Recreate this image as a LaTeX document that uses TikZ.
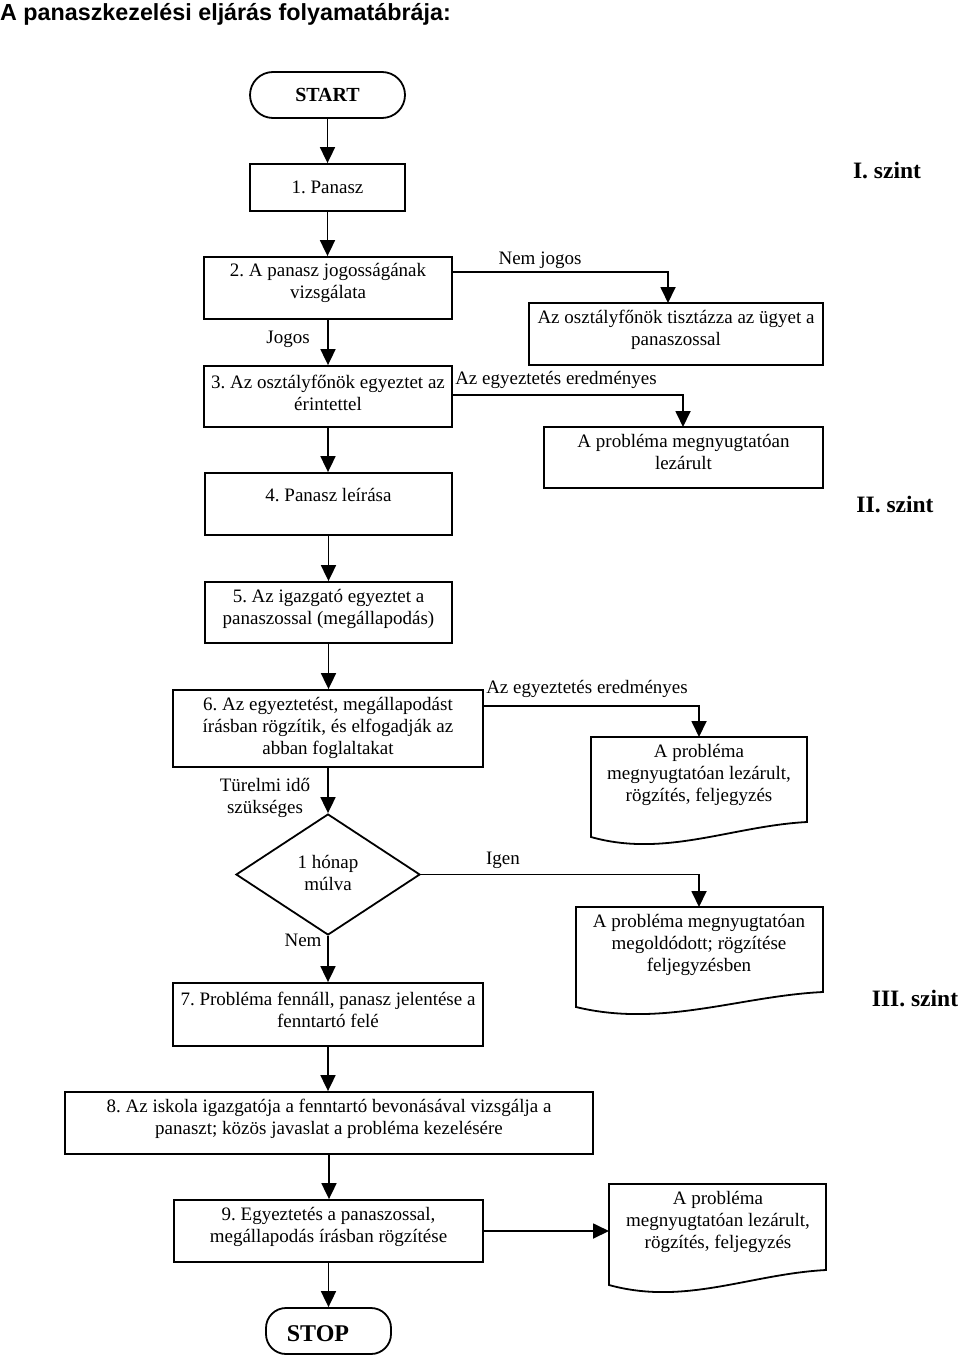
\documentclass[tikz,border=0pt]{standalone}
\usepackage{fontspec}
\setmainfont{Liberation Serif}
\newfontfamily\titlefont{Liberation Sans}
\usetikzlibrary{arrows.meta,calc,shapes.geometric}
\frenchspacing
\begin{document}
\begin{tikzpicture}[x=1pt,y=-1pt,
  box/.style={draw, line width=1.8pt, inner sep=0pt},
  txt/.style={font=\fontsize{19}{22}\selectfont, align=center, inner sep=0pt},
  arr/.style={line width=1.8pt, -{Triangle[length=16pt,width=15pt]}},
  lvl/.style={font=\fontsize{23.5}{26}\selectfont\bfseries, inner sep=0pt},
  docshape/.style={draw, line width=1.8pt}]
\useasboundingbox (0,0) rectangle (960,1356);
\clip (0,0) rectangle (960,1356);

% title
\node[font=\titlefont\fontsize{23.3}{26}\selectfont\bfseries, anchor=west, inner sep=0pt] (title) at (0,14) {A panaszkezelési eljárás folyamatábrája:};

% level labels
\node[lvl] (lv1) at (887,171) {I. szint};
\node[lvl] (lv2) at (895,505) {II. szint};
\node[lvl] (lv3) at (915,999) {III. szint};

% main column
\node[box, rounded corners=23pt, minimum width=155pt, minimum height=46pt, font=\fontsize{20}{22}\selectfont\bfseries] (start) at (327.5,95) {START};
\node[box, minimum width=155pt, minimum height=47pt, txt] (p1) at (327.5,187.5) {1. Panasz};

\node[box, minimum width=248pt, minimum height=62pt] (b2) at (328,288) {};
\node[txt] (b2t) at (328,282.5) {2. A panasz jogosságának\\vizsgálata};

\node[box, minimum width=294pt, minimum height=62pt] (t) at (676,334) {};
\node[txt] (tt) at (676,330) {Az osztályfőnök tisztázza az ügyet a\\panaszossal};

\node[box, minimum width=248pt, minimum height=61pt] (b3) at (328,396.5) {};
\node[txt] (b3t) at (328,392.5) {3. Az osztályfőnök egyeztet az\\érintettel};

\node[box, minimum width=279pt, minimum height=61pt] (l) at (683.5,457.5) {};
\node[txt] (lt) at (683.5,451.5) {A probléma megnyugtatóan\\lezárult};

\node[box, minimum width=247pt, minimum height=62pt] (b4) at (328.5,504) {};
\node[txt] (b4t) at (328.5,495) {4. Panasz leírása};

\node[box, minimum width=247pt, minimum height=61pt] (b5) at (328.5,612.5) {};
\node[txt] (b5t) at (328.5,608.5) {5. Az igazgató egyeztet a\\panaszossal (megállapodás)};

\node[box, minimum width=310pt, minimum height=77pt] (b6) at (328,728.5) {};
\node[txt] (b6t) at (328,727.5) {6. Az egyeztetést, megállapodást\\írásban rögzítik, és elfogadják az\\abban foglaltakat};

\node[draw, diamond, line width=1.8pt, inner sep=0pt, minimum width=184pt, minimum height=121pt] (dm) at (328,874.5) {};
\node[txt] (dmt) at (328,872.5) {1 hónap\\múlva};

\node[box, minimum width=310pt, minimum height=63pt] (b7) at (328,1014.5) {};
\node[txt] (b7t) at (328,1010) {7. Probléma fennáll, panasz jelentése a\\fenntartó felé};

\node[box, minimum width=528pt, minimum height=62pt] (b8) at (329,1123) {};
\node[txt] (b8t) at (329,1118.5) {8. Az iskola igazgatója a fenntartó bevonásával vizsgálja a\\panaszt; közös javaslat a probléma kezelésére};

\node[box, minimum width=309pt, minimum height=62pt] (b9) at (328.5,1231) {};
\node[txt] (b9t) at (328.5,1227) {9. Egyeztetés a panaszossal,\\megállapodás írásban rögzítése};

\node[box, rounded corners=20pt, minimum width=125pt, minimum height=46pt] (stop) at (328.5,1331) {};
\node[font=\fontsize{24}{26}\selectfont\bfseries, inner sep=0pt] (stopt) at (318,1334) {STOP};

% document shapes
\draw[docshape] (591,737) -- (807,737) -- (807,822) .. controls (732,826) and (665,858) .. (591,837) -- cycle;
\node[txt] (d1t) at (699,775) {A probléma\\megnyugtatóan lezárult,\\rögzítés, feljegyzés};
\coordinate (d1in) at (699,737);

\draw[docshape] (576,907) -- (823,907) -- (823,992) .. controls (740,996) and (662,1028) .. (576,1007) -- cycle;
\node[txt] (d2t) at (699,945) {A probléma megnyugtatóan\\megoldódott; rögzítése\\feljegyzésben};
\coordinate (d2in) at (699,907);

\draw[docshape] (609,1184) -- (826,1184) -- (826,1270) .. controls (750,1274) and (685,1306) .. (609,1285) -- cycle;
\node[txt] (d3t) at (718,1222) {A probléma\\megnyugtatóan lezárult,\\rögzítés, feljegyzés};
\coordinate (d3in) at (609,1231);

% labels
\node[txt] (lnj) at (540,260) {Nem jogos};
\node[txt] (ljo) at (288,339) {Jogos};
\node[txt] (ler1) at (556,380) {Az egyeztetés eredményes};
\node[txt] (ler2) at (587,689) {Az egyeztetés eredményes};
\node[txt] (ltur) at (265,798) {Türelmi idő\\szükséges};
\node[txt] (lig) at (503,860) {Igen};
\node[txt] (lnem) at (303,940) {Nem};

% connector helpers
\coordinate (ynj) at (0,272);
\coordinate (tin) at (668,303);
\coordinate (yer1) at (0,395);
\coordinate (lin) at (683,427);
\coordinate (yer2) at (0,706);

% vertical connectors
\draw[arr] (start.south) -- (start.south |- p1.north);
\draw[arr] (p1.south) -- (p1.south |- b2.north);
\draw[arr] (b2.south) -- (b2.south |- b3.north);
\draw[arr] (b3.south) -- (b3.south |- b4.north);
\draw[arr] (b4.south) -- (b4.south |- b5.north);
\draw[arr] (b5.south) -- (b5.south |- b6.north);
\draw[arr] (b6.south) -- (b6.south |- dm.north);
\draw[arr] (dm.south) -- (dm.south |- b7.north);
\draw[arr] (b7.south) -- (b7.south |- b8.north);
\draw[arr] (b8.south) -- (b8.south |- b9.north);
\draw[arr] (b9.south) -- (b9.south |- stop.north);

% branch connectors
\draw[arr] (b2.east |- ynj) -| (tin);
\draw[arr] (b3.east |- yer1) -| (lin);
\draw[arr] (b6.east |- yer2) -| (d1in);
\draw[arr] (dm.east) -| (d2in);
\draw[arr] (b9.east) -- (d3in);
\end{tikzpicture}
\end{document}
